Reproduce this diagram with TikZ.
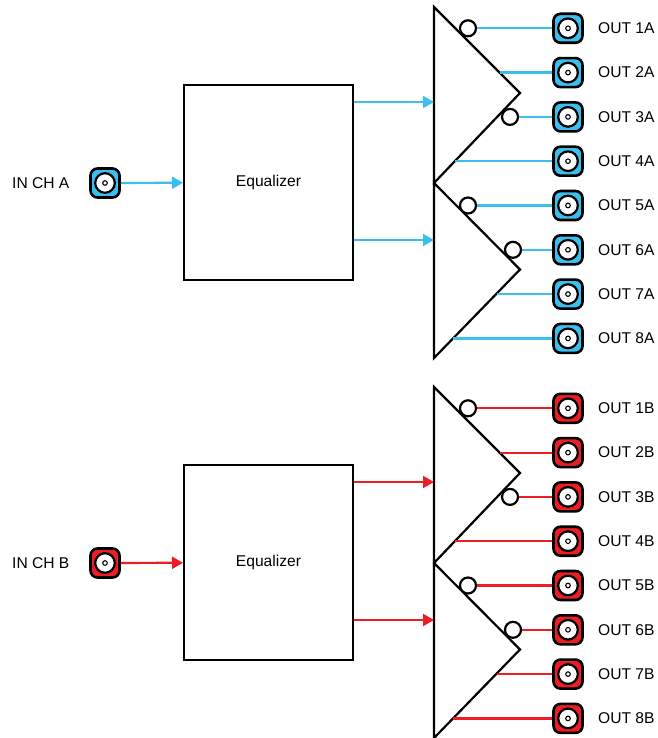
\documentclass[tikz,border=0pt]{standalone}
\usepackage{fontspec}
\setmainfont{Liberation Sans}
\usetikzlibrary{arrows.meta}
\definecolor{cyanc}{RGB}{60,190,238}
\definecolor{redc}{RGB}{236,30,36}
\tikzset{
  conn/.style={draw=black, line width=2.6pt, rounded corners=7pt, minimum size=29pt,
    inner sep=0pt, fill=#1,
    path picture={\draw[line width=2.2pt, fill=white] (path picture bounding box.center) circle (9.8pt);
                  \draw[line width=1.1pt] (path picture bounding box.center) circle (2.3pt);}},
  eqbox/.style={draw, line width=2pt, minimum width=169pt, minimum height=195pt,
    inner sep=0pt, font=\fontsize{15.6}{18}\selectfont},
  amp/.style={draw, line width=2.2pt, line join=miter},
  sig/.style={draw=#1, line width=2.2pt},
  sigarrow/.style={draw=#1, line width=2.2pt, -{Triangle[length=11pt,width=12pt]}},
  bubble/.style={circle, draw, fill=white, line width=2.2pt, minimum size=16pt, inner sep=0pt},
  lbl/.style={font=\fontsize{15.6}{18}\selectfont, anchor=west, inner sep=0pt}
}
\begin{document}
\begin{tikzpicture}[x=1pt,y=-1pt]
\useasboundingbox (0,0) rectangle (657,738);
\foreach \g/\o/\c in {A/0/cyanc, B/380/redc}{
\begin{scope}[yshift=-\o pt]
  % input
  \node[conn=\c] (in\g) at (105,183) {};
  \node[lbl] (lin\g) at (12,183) {IN CH \g};
  \node[eqbox] (eq\g) at (268.5,182.5) {Equalizer};
  \draw[sigarrow=\c] (in\g) -- (eq\g);
  % amplifiers
  \coordinate (ta\g) at (434,7);   \coordinate (pa\g) at (520,93);    \coordinate (ba\g) at (434,183);
  \coordinate (tb\g) at (434,183); \coordinate (pb\g) at (520,269.5); \coordinate (bb\g) at (434,358);
  \draw[amp] (ta\g) -- (pa\g) -- (ba\g) -- cycle;
  \draw[amp] (tb\g) -- (pb\g) -- (bb\g) -- cycle;
  \coordinate (ia\g) at (434,102);
  \coordinate (ib\g) at (434,240);
  \draw[sigarrow=\c] (eq\g.east |- ia\g) -- (ia\g);
  \draw[sigarrow=\c] (eq\g.east |- ib\g) -- (ib\g);
  % outputs
  \foreach \k/\y in {1/28.3,2/72.6,3/116.9,4/161.2,5/205.5,6/249.8,7/294.1,8/338.4}{
    \node[conn=\c] (o\k\g) at (568,\y) {};
    \node[lbl] (l\k\g) at (598,\y) {OUT \k\g};
  }
  % plain outputs from amplifier edges
  \coordinate (e2\g) at (500,72.6);
  \coordinate (e4\g) at (455.3,161.2);
  \coordinate (e7\g) at (496.8,294.1);
  \coordinate (e8\g) at (453.3,338.4);
  \foreach \k in {2,4,7,8}{
    \draw[sig=\c] (e\k\g) -- (o\k\g);
  }
  % inverted outputs
  \node[bubble] (n1\g) at (468,28.3) {};
  \node[bubble] (n3\g) at (510,116.9) {};
  \node[bubble] (n5\g) at (468,205.5) {};
  \node[bubble] (n6\g) at (513,249.8) {};
  \foreach \k in {1,3,5,6}{
    \draw[sig=\c] (n\k\g) -- (o\k\g);
  }
\end{scope}
}
\end{tikzpicture}
\end{document}
